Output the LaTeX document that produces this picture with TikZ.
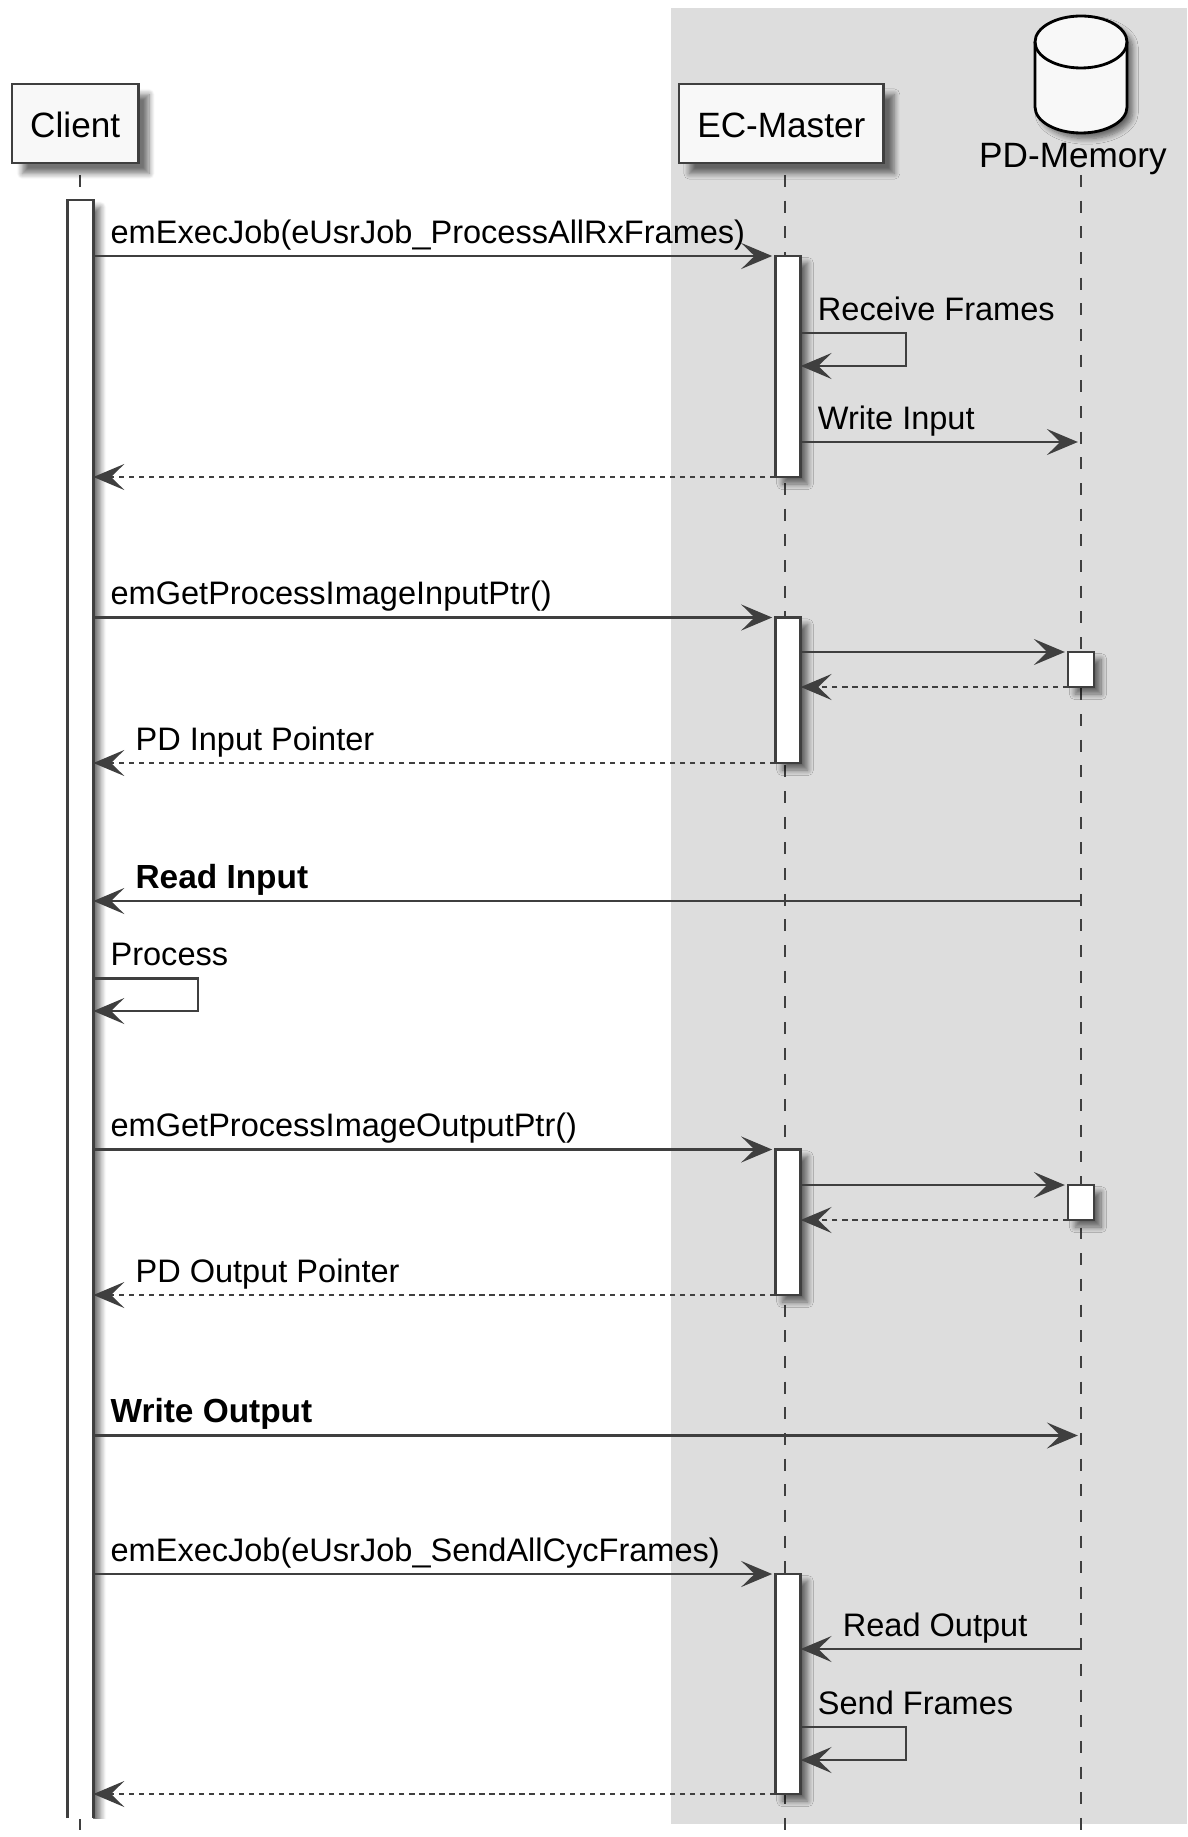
\documentclass[tikz,border=0pt]{standalone}
\usepackage{fontspec}
\setmainfont{Liberation Sans}
\usetikzlibrary{arrows.meta,fit,shadows.blur}
\definecolor{linegray}{HTML}{3F3F3F}
\definecolor{boxfill}{HTML}{F8F8F8}
\definecolor{boxgray}{HTML}{DDDDDD}
\tikzset{
    >={Stealth[length=8.8pt,width=7.4pt,inset=3.8pt]}, % notched arrowhead
    softshadow/.style={blur shadow={shadow xshift=#1,shadow yshift=-#1,shadow blur radius=1.6pt,shadow blur steps=8,shadow opacity=55}},
    participant/.style={draw=linegray, line width=0.75pt, fill=boxfill, minimum height=22.5pt, text height=8.25pt, text depth=0pt,
        inner sep=0pt, outer sep=0pt, font=\fontsize{10}{12}\selectfont, softshadow=3pt},
    database/.style={draw=black, line width=0.8pt, fill=boxfill, softshadow=1.6pt},
    partlabel/.style={font=\fontsize{10}{12}\selectfont, inner sep=0pt, anchor=base},
    actbar/.style={fill=white, draw=linegray, line width=0.7pt, inner sep=0pt, outer sep=0pt, softshadow=2pt},
    lifeline/.style={draw=linegray, line width=0.45pt, dash pattern=on 3.4pt off 3.9pt},
    msg/.style={->, draw=linegray, line width=0.6pt, shorten >=0.9pt},
    msgback/.style={->, draw=linegray, line width=0.6pt},
    reply/.style={msgback, dash pattern=on 1.5pt off 1.35pt},
    msglabel/.style={font=\fontsize{9.25}{11}\selectfont, inner sep=0pt, anchor=base west, xshift=4.6pt, yshift=3.6pt},
    backlabel/.style={msglabel, xshift=7.1pt},
    boldlabel/.style={font=\fontsize{9.5}{11}\selectfont\bfseries}
}
\begin{document}
\begin{tikzpicture}[x=0.01cm, y=-0.01cm]
    \useasboundingbox (0,0) rectangle (1187,1837);

    % =========================================================================
    % BOX BEHIND EC-MASTER AND PD-MEMORY
    % =========================================================================
    \fill[boxgray] (671,8) rectangle (1187,1824);

    % One row for each message
    \foreach \rowname/\rowy in {
        rowexec/256, rowrecv/333, rowrecvend/366, rowwrite/442, rowexecret/477,
        rowinptr/617.5, rowinmem/652, rowinmemret/687, rowinret/763,
        rowread/901, rowproc/978.5, rowprocend/1011,
        rowoutptr/1149.5, rowoutmem/1185, rowoutmemret/1220, rowoutret/1295,
        rowwriteout/1435.5, rowsend/1574, rowrdout/1649, rowsendfr/1727, rowsendfrend/1760,
        rowsendret/1794, rowbarend/1818, rowend/1837
    } \coordinate (\rowname) at (0,\rowy);

    % =========================================================================
    % PARTICIPANTS AND LIFELINES
    % =========================================================================
    \coordinate (clientline) at (80,175);
    \coordinate (masterline) at (785,175);
    \coordinate (memoryline) at (1081,175);
    \draw[lifeline] (clientline) -- (clientline |- rowend);
    \draw[lifeline] (masterline) -- (masterline |- rowend);
    \draw[lifeline] (memoryline) -- (memoryline |- rowend);

    \node[participant, minimum width=36pt] (client) at (75.2,123.5) {Client};
    \node[participant, minimum width=58.2pt] (master) at (781.3,123.5) {EC-Master};

    % Cylinder: outline first, then the front edge of its top
    \path[database] (1035,42) arc[start angle=180, end angle=360, x radius=46, y radius=26]
        -- (1127,107) arc[start angle=0, end angle=180, x radius=46, y radius=26] -- cycle;
    \draw[draw=black, line width=0.8pt] (1035,42) arc[start angle=180, end angle=0, x radius=46, y radius=26];
    \node[partlabel] (memorylabel) at (1073,168) {PD-Memory};

    % =========================================================================
    % ACTIVATION BARS
    % =========================================================================
    % Client bar runs off at the bottom, without a closing line
    \begin{scope}
        \clip (0,0) rectangle (1187,1818);
        \node[fill=white, inner sep=0pt, outer sep=0pt, softshadow=2pt, fit={(67.6,200)(93.4,1850)}] (clientbar) {};
    \end{scope}
    \draw[draw=linegray, line width=0.7pt] (clientbar.west |- rowbarend) -- (clientbar.north west)
        -- (clientbar.north east) -- (clientbar.east |- rowbarend);

    \node[actbar, fit={(775.3,256)(800.7,477)}] (masterbarA) {};
    \node[actbar, fit={(775.3,617.5)(800.7,763)}] (masterbarB) {};
    \node[actbar, fit={(775.3,1149.5)(800.7,1295)}] (masterbarC) {};
    \node[actbar, fit={(775.3,1574)(800.7,1794)}] (masterbarD) {};
    \node[actbar, fit={(1068,652)(1094,687)}] (memorybarA) {};
    \node[actbar, fit={(1068,1185)(1094,1220)}] (memorybarB) {};

    % =========================================================================
    % PROCESS ALL RX FRAMES
    % =========================================================================
    \draw[msg] (clientbar.east |- rowexec) -- (masterbarA.north west)
        node[msglabel, pos=0] (execlabel) {emExecJob(eUsrJob\_ProcessAllRxFrames)};
    \draw[msgback] (masterbarA.east |- rowrecv) -- ++(105,0) node[msglabel, pos=0] (recvlabel) {Receive Frames}
        |- (masterbarA.east |- rowrecvend);
    \draw[msg] (masterbarA.east |- rowwrite) -- (memoryline |- rowwrite)
        node[msglabel, pos=0] (writelabel) {Write Input};
    \draw[reply] (masterbarA.south west) -- (clientbar.east |- rowexecret);

    % =========================================================================
    % INPUT POINTER
    % =========================================================================
    \draw[msg] (clientbar.east |- rowinptr) -- (masterbarB.north west)
        node[msglabel, pos=0] (inptrlabel) {emGetProcessImageInputPtr()};
    \draw[msg] (masterbarB.east |- rowinmem) -- (memorybarA.north west);
    \draw[reply] (memorybarA.south west) -- (masterbarB.east |- rowinmemret);
    \draw[reply] (masterbarB.south west) -- (clientbar.east |- rowinret)
        node[backlabel, pos=1] (inretlabel) {PD Input Pointer};

    % =========================================================================
    % APPLICATION
    % =========================================================================
    \draw[msgback] (memoryline |- rowread) -- (clientbar.east |- rowread)
        node[backlabel, pos=1, boldlabel] (readlabel) {Read Input};
    \draw[msgback] (clientbar.east |- rowproc) -- ++(105,0) node[msglabel, pos=0] (proclabel) {Process}
        |- (clientbar.east |- rowprocend);

    % =========================================================================
    % OUTPUT POINTER
    % =========================================================================
    \draw[msg] (clientbar.east |- rowoutptr) -- (masterbarC.north west)
        node[msglabel, pos=0] (outptrlabel) {emGetProcessImageOutputPtr()};
    \draw[msg] (masterbarC.east |- rowoutmem) -- (memorybarB.north west);
    \draw[reply] (memorybarB.south west) -- (masterbarC.east |- rowoutmemret);
    \draw[reply] (masterbarC.south west) -- (clientbar.east |- rowoutret)
        node[backlabel, pos=1] (outretlabel) {PD Output Pointer};

    \draw[msg] (clientbar.east |- rowwriteout) -- (memoryline |- rowwriteout)
        node[msglabel, pos=0, boldlabel] (writeoutlabel) {Write Output};

    % =========================================================================
    % SEND ALL CYCLIC FRAMES
    % =========================================================================
    \draw[msg] (clientbar.east |- rowsend) -- (masterbarD.north west)
        node[msglabel, pos=0] (sendlabel) {emExecJob(eUsrJob\_SendAllCycFrames)};
    \draw[msgback] (memoryline |- rowrdout) -- (masterbarD.east |- rowrdout)
        node[backlabel, pos=1] (rdoutlabel) {Read Output};
    \draw[msgback] (masterbarD.east |- rowsendfr) -- ++(105,0) node[msglabel, pos=0] (sendfrlabel) {Send Frames}
        |- (masterbarD.east |- rowsendfrend);
    \draw[reply] (masterbarD.south west) -- (clientbar.east |- rowsendret);
\end{tikzpicture}
\end{document}
